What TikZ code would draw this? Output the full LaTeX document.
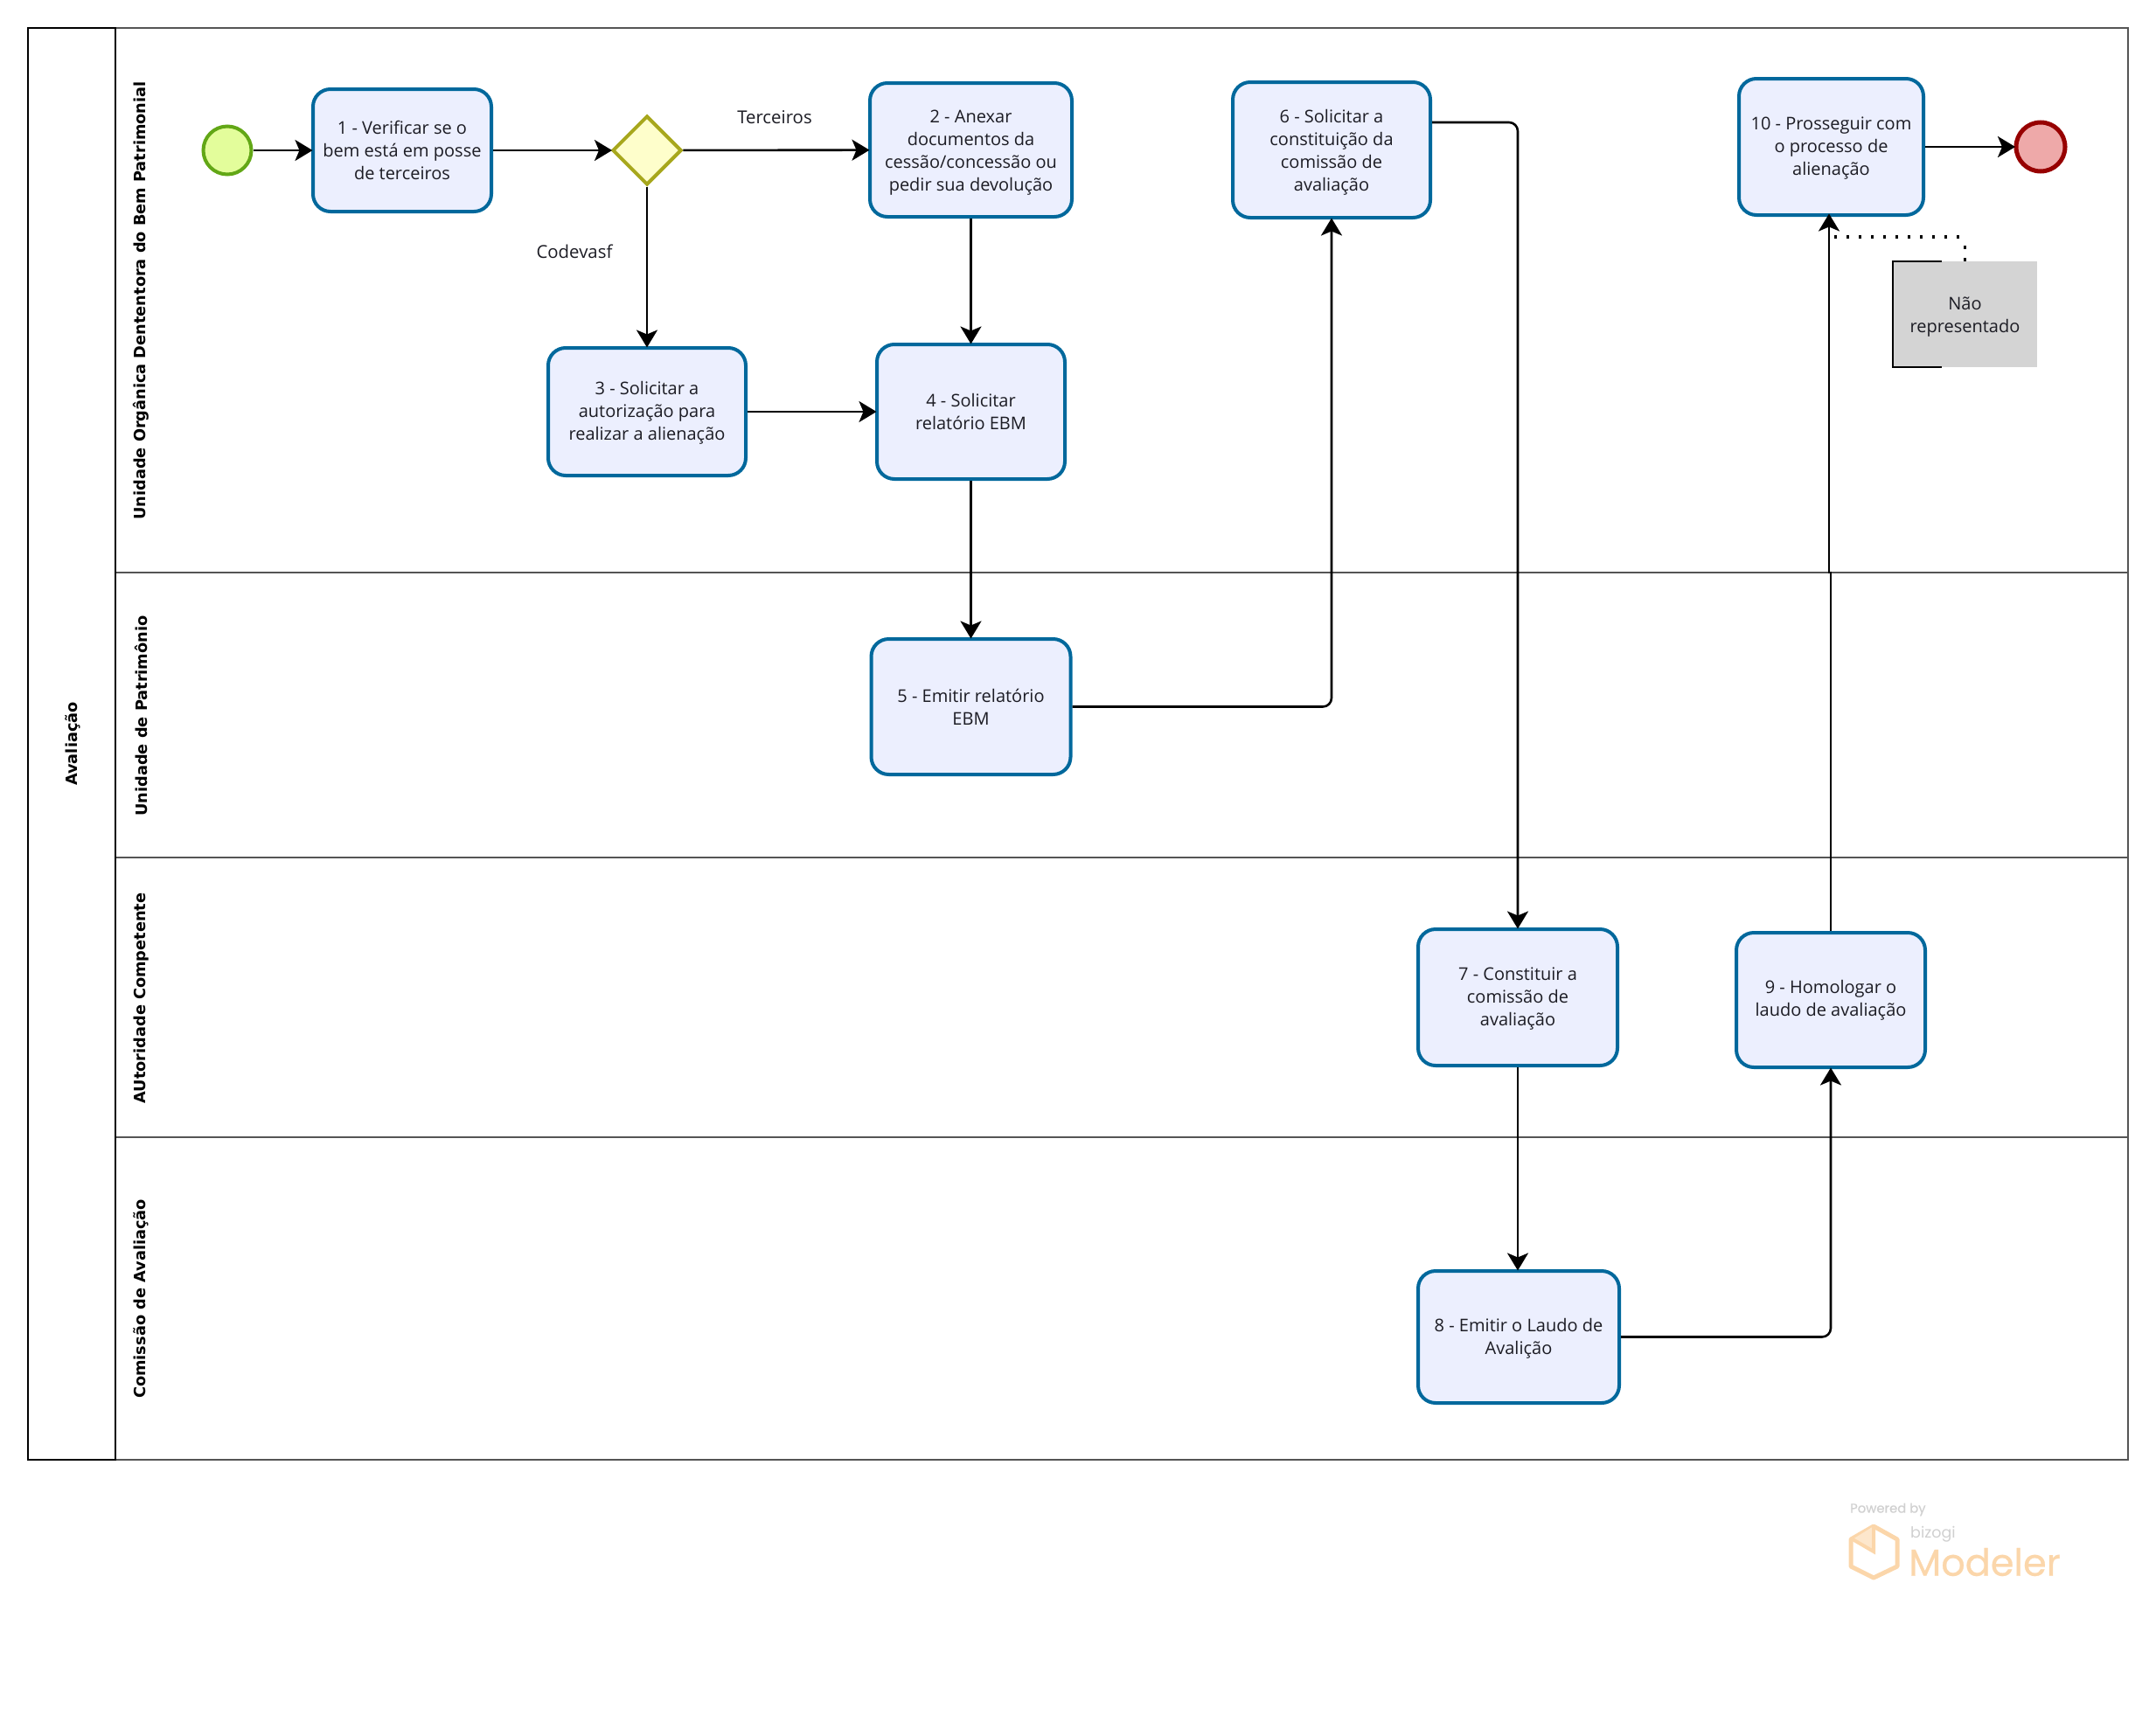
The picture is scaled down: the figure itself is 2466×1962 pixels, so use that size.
\documentclass[tikz,border=0pt]{standalone}
\usepackage{fontspec}
\setmainfont{Open Sans}
\newfontfamily\lanefont{DejaVu Sans}
\newfontfamily\logofont{Poppins}
\newfontfamily\logofontheavy[FakeBold=0.6]{Poppins}
\usetikzlibrary{arrows.meta,shapes.geometric}
\definecolor{taskedge}{HTML}{00689C}
\definecolor{taskfill}{HTML}{ECEFFE}
\definecolor{ink}{HTML}{1C1C24}
\definecolor{lanegrey}{HTML}{555555}
\definecolor{startedge}{HTML}{62A716}
\definecolor{startfill}{HTML}{E3FD9B}
\definecolor{endedge}{HTML}{970000}
\definecolor{endfill}{HTML}{EEA9A9}
\definecolor{gateedge}{HTML}{A7A71C}
\definecolor{gatefill}{HTML}{FEFECB}
\definecolor{logoorange}{HTML}{FBD6AA}
\definecolor{logogrey}{HTML}{D0D0D0}
\newcommand{\firstline}[1]{\rule{0pt}{#1}}
\tikzset{
  taskbox/.style={draw=taskedge,fill=taskfill,line width=4pt,rounded corners=20pt,align=center,inner sep=0pt,outer sep=2pt,text=ink,font=\fontsize{20}{26}\selectfont},
  flow/.style={draw=black,line width=2.6pt,rounded corners=10pt,shorten >=-1.5pt,-{Stealth[length=20pt,width=24pt,inset=5pt]}},
  lanelabel/.style={rotate=90,font=\lanefont\bfseries\fontsize{17.75}{22}\selectfont,text=black,inner sep=0pt},
  lane/.style={draw=lanegrey,line width=2.2pt},
  edgetext/.style={font=\fontsize{20.4}{26}\selectfont,text=ink,inner sep=0pt}
}
\begin{document}
\begin{tikzpicture}[x=1pt,y=-1pt]
\useasboundingbox (0,0) rectangle (2466,1962);
% lanes
\draw[lane] (132,32) rectangle (2434,1670);
\draw[lane] (132,655) -- (2434,655);
\draw[lane] (132,981) -- (2434,981);
\draw[lane] (132,1301) -- (2434,1301);
\draw[draw=black,line width=2.6pt] (32,32) rectangle (132,1670);
\node[lanelabel] (pool) at (83,851) {Avaliação};
\node[lanelabel] (l1) at (161.5,344) {Unidade Orgânica Dententora do Bem Patrimonial};
\node[lanelabel] (l2) at (161.5,819) {Unidade de Patrimônio};
\node[lanelabel] (l3) at (161.5,1142) {AUtoridade Competente};
\node[lanelabel] (l4) at (161.5,1486) {Comissão de Avaliação};
% events and gateway
\node[circle,draw=startedge,fill=startfill,line width=4pt,minimum size=55pt,inner sep=0pt,outer sep=2pt] (start) at (260,172) {};
\node[circle,draw=endedge,fill=endfill,line width=5pt,minimum size=56pt,inner sep=0pt,outer sep=2.5pt] (end) at (2334,168) {};
\node[diamond,draw=gateedge,fill=gatefill,line width=4pt,minimum width=79pt,minimum height=79pt,inner sep=0pt,outer sep=2pt] (gate) at (740,172) {};
% tasks
\node[taskbox,minimum width=204pt,minimum height=140pt] (t1) at (460,172) {1 - Verificar se o\\bem está em posse\\de terceiros};
\node[taskbox,minimum width=231pt,minimum height=153pt] (t2) at (1110.5,171.5) {\firstline{21pt}2 - Anexar\\documentos da\\cessão/concessão ou\\pedir sua devolução};
\node[taskbox,minimum width=226pt,minimum height=146pt] (t3) at (740,471) {\firstline{18pt}3 - Solicitar a\\autorização para\\realizar a alienação};
\node[taskbox,minimum width=215pt,minimum height=154pt] (t4) at (1110.5,471) {4 - Solicitar\\relatório EBM};
\node[taskbox,minimum width=228pt,minimum height=155pt] (t5) at (1110.5,808.5) {5 - Emitir relatório\\EBM};
\node[taskbox,minimum width=226pt,minimum height=155pt] (t6) at (1523,171.5) {\firstline{21pt}6 - Solicitar a\\constituição da\\comissão de\\avaliação};
\node[taskbox,minimum width=228pt,minimum height=156pt] (t7) at (1736,1141) {\firstline{18pt}7 - Constituir a\\comissão de\\avaliação};
\node[taskbox,minimum width=230pt,minimum height=151pt] (t8) at (1737,1529.5) {\firstline{18pt}8 - Emitir o Laudo de\\Avalição};
\node[taskbox,minimum width=216pt,minimum height=154pt] (t9) at (2094,1144) {9 - Homologar o\\laudo de avaliação};
\node[taskbox,minimum width=211pt,minimum height=156pt] (t10) at (2094.5,168) {\firstline{18pt}10 - Prosseguir com\\o processo de\\alienação};
% annotation
\node[fill=black!17,minimum width=165pt,minimum height=121pt,inner sep=0pt,align=center,text=ink,font=\fontsize{20}{26}\selectfont] (note) at (2247.5,359.5) {\firstline{20pt}Não\\representado};
\draw[draw=black,line width=1.2pt] (2221,299) -- (2165,299) -- (2165,420) -- (2221,420);
% connectors
\draw[flow] (start) -- (t1);
\draw[flow] (t1) -- (gate);
\draw[flow] (gate) -- (t2);
\draw[flow] (gate) -- (t3);
\draw[flow] (t2) -- (t4);
\draw[flow] (t3) -- (t4);
\draw[flow] (t4) -- (t5);
\draw[flow] (t5.east) -| (t6.south);
\draw[flow] (t6.east |- 0,140) -| (t7.north);
\draw[flow] (t7) -- (t8.north -| t7);
\draw[flow] (t8.east) -| (t9.south);
\coordinate (jog) at (2094,655);
\draw[flow,rounded corners=0pt] (t9.north) -- (jog) -- (2092,655) -- (2092,246);
\draw[flow] (t10.east |- 0,168) -- (end);
\coordinate (noteend) at (2097,271);
\draw[draw=black,line width=3.5pt,dash pattern=on 3.5pt off 10.5pt] (note.north) -- (2247.5,279) (2241,271) -- (noteend);
% edge labels
\node[edgetext] (lab1) at (886,134) {Terceiros};
\node[edgetext] (lab2) at (657,288) {Codevasf};
% watermark
\node[text=logogrey,font=\logofontheavy\fontsize{14.8}{15}\selectfont,anchor=west,inner sep=0pt] (powered) at (2116,1727) {Powered by};
\draw[draw=logoorange,line width=5pt,line join=round] (2143,1746) -- (2170,1761) -- (2170,1792) -- (2143,1805) -- (2117,1792) -- (2117,1761) -- cycle;
\fill[logoorange!60] (2143,1746) -- (2143,1775) -- (2119,1761) -- cycle;
\draw[draw=logoorange,line width=4pt] (2119,1761) -- (2143,1775) -- (2143,1746);
\node[text=logogrey,font=\logofont\fontsize{17.5}{20}\selectfont,anchor=west,inner sep=0pt] (bizogi) at (2185,1755) {bizogi};
\node[text=logoorange,font=\logofontheavy\fontsize{43}{44}\selectfont,anchor=west,inner sep=0pt] (modeler) at (2183,1787) {Modeler};
\end{tikzpicture}
\end{document}
